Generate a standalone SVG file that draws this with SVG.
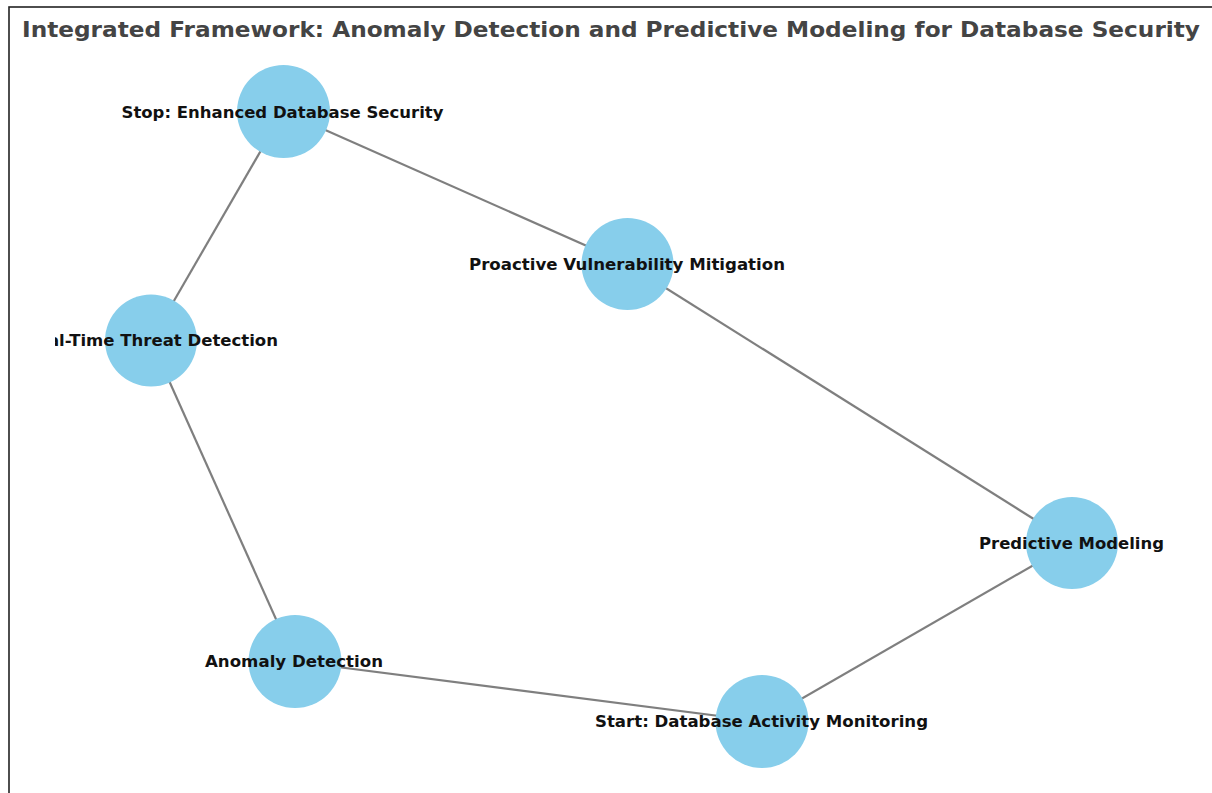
<svg xmlns="http://www.w3.org/2000/svg" width="1212" height="793" viewBox="0 0 1212 793">
<defs>
<style>
.node circle{fill:#87CEEB;}
.lbl{font-family:"DejaVu Sans","Liberation Sans",sans-serif;font-weight:bold;font-size:16.5px;fill:#111;text-anchor:middle;}
.edge{stroke:#7f7f7f;stroke-width:2.2;fill:none;}
.title{font-family:"DejaVu Sans","Liberation Sans",sans-serif;font-weight:bold;font-size:20.5px;fill:#444;}
</style>
<clipPath id="axclip"><rect x="55" y="0" width="1157" height="793"/></clipPath>
</defs>
<rect x="0" y="0" width="1212" height="793" fill="#fff"/>
<rect x="9" y="7" width="1220" height="800" fill="none" stroke="#222" stroke-width="1.6"/>
<text class="title" x="22" y="37" textLength="1178" lengthAdjust="spacingAndGlyphs">Integrated Framework: Anomaly Detection and Predictive Modeling for Database Security</text>
<g id="connectors">
<line class="edge" x1="283.5" y1="111.5" x2="627.5" y2="264"/>
<line class="edge" x1="283.5" y1="111.5" x2="151" y2="340.5"/>
<line class="edge" x1="151" y1="340.5" x2="295" y2="661.5"/>
<line class="edge" x1="295" y1="661.5" x2="762" y2="721.5"/>
<line class="edge" x1="762" y1="721.5" x2="1072" y2="543"/>
<line class="edge" x1="1072" y1="543" x2="627.5" y2="264"/>
</g>
<g id="node-stop" class="node">
<circle cx="283.5" cy="111.5" r="46.5"/>
<text class="lbl" x="282.5" y="117.5" textLength="322" lengthAdjust="spacingAndGlyphs">Stop: Enhanced Database Security</text>
</g>
<g id="node-proactive" class="node">
<circle cx="627.5" cy="264" r="46"/>
<text class="lbl" x="627" y="269.5" textLength="316" lengthAdjust="spacingAndGlyphs">Proactive Vulnerability Mitigation</text>
</g>
<g id="node-realtime" class="node">
<circle cx="151" cy="340.5" r="46"/>
<text class="lbl" x="151" y="346" clip-path="url(#axclip)" textLength="254" lengthAdjust="spacingAndGlyphs">Real-Time Threat Detection</text>
</g>
<g id="node-predictive" class="node">
<circle cx="1072" cy="543" r="46"/>
<text class="lbl" x="1071.5" y="548.5" textLength="185" lengthAdjust="spacingAndGlyphs">Predictive Modeling</text>
</g>
<g id="node-anomaly" class="node">
<circle cx="295" cy="661.5" r="46.5"/>
<text class="lbl" x="294" y="667" textLength="178" lengthAdjust="spacingAndGlyphs">Anomaly Detection</text>
</g>
<g id="node-start" class="node">
<circle cx="762" cy="721.5" r="46.5"/>
<text class="lbl" x="761.5" y="727" textLength="333" lengthAdjust="spacingAndGlyphs">Start: Database Activity Monitoring</text>
</g>
</svg>
